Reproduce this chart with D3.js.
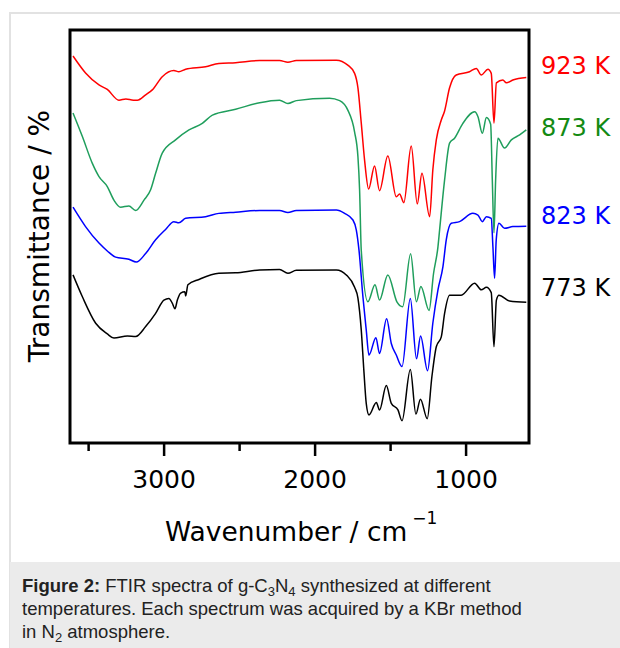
<!DOCTYPE html>
<html>
<head>
<meta charset="utf-8">
<script src="https://cdn.jsdelivr.net/npm/d3@7"></script>
<style>
  body { margin: 0; background: #fff; }
  svg { display: block; }
</style>
</head>
<body>
<div id="chart"></div>
<script>
// FTIR spectra, [wavenumber cm-1, transmittance (a.u., stacked)]
const s923 = [[3600,93.7],[3517,89.6],[3428,86.7],[3373,85.6],[3296,83.0],[3250,83.3],[3200,83.0],[3174,83.0],[3119,84.3],[3075,85.5],[3009,88.7],[2932,90.2],[2899,89.9],[2854,90.5],[2722,91.1],[2634,91.9],[2523,92.1],[2364,92.6],[2232,92.6],[2177,92.2],[2121,92.6],[1856,92.7],[1780,91.5],[1735,89.5],[1713,86.0],[1691,77.5],[1669,68.5],[1642,61.5],[1603,67.1],[1570,61.1],[1515,69.5],[1459,59.6],[1437,60.3],[1409,58.2],[1360,71.9],[1320,57.9],[1289,65.3],[1238,54.8],[1217,66.1],[1194,73.4],[1161,78.2],[1139,80.4],[1106,86.0],[1062,89.1],[974,89.9],[929,90.7],[896,89.1],[852,90.5],[830,89.5],[812,77.5],[796,87.2],[753,87.9],[730,87.2],[687,87.9],[598,88.5]];
const s873 = [[3600,79.9],[3538,74.2],[3472,67.7],[3428,64.5],[3373,62.1],[3329,58.8],[3285,57.1],[3230,57.4],[3185,56.3],[3130,58.8],[3086,61.3],[3053,65.3],[3009,70.2],[2921,73.4],[2832,75.8],[2744,77.4],[2677,79.4],[2523,80.8],[2364,82.4],[2232,83.0],[2177,82.2],[2121,82.9],[1901,83.5],[1834,82.9],[1780,80.6],[1735,75.3],[1713,69.3],[1702,61.3],[1691,46.7],[1647,34.2],[1600,38.3],[1570,34.6],[1515,40.7],[1454,34.1],[1417,33.0],[1364,45.8],[1326,34.2],[1296,37.9],[1242,32.1],[1212,41.1],[1183,47.5],[1172,51.6],[1139,63.7],[1106,72.6],[1073,73.8],[1018,77.4],[940,80.2],[918,79.0],[889,75.0],[862,78.8],[834,77.2],[823,63.7],[812,50.9],[801,63.7],[786,73.8],[742,71.4],[697,73.4],[642,74.6],[598,75.8]];
const s823 = [[3600,57.1],[3517,52.4],[3428,48.4],[3373,46.5],[3318,45.0],[3230,44.5],[3181,43.8],[3119,45.9],[3053,49.2],[2987,51.7],[2932,53.6],[2899,53.3],[2854,54.4],[2722,54.8],[2634,55.6],[2523,55.9],[2364,56.3],[2232,56.3],[2177,55.8],[2121,56.3],[1856,56.4],[1801,55.6],[1746,54.0],[1724,51.6],[1706,46.7],[1680,35.4],[1658,27.4],[1640,21.3],[1594,25.5],[1570,21.7],[1523,30.1],[1492,24.1],[1459,21.3],[1421,18.5],[1366,35.0],[1325,20.4],[1298,25.9],[1252,17.5],[1217,29.0],[1183,37.1],[1150,42.7],[1128,49.2],[1095,53.2],[1040,53.6],[952,55.6],[918,55.2],[889,53.6],[862,54.8],[830,54.4],[819,47.5],[808,39.9],[797,49.2],[779,53.2],[742,52.0],[687,52.4],[598,52.5]];
const s773 = [[3600,40.7],[3538,35.4],[3450,29.0],[3373,26.4],[3329,25.4],[3240,25.9],[3185,25.8],[3119,28.2],[3053,31.4],[2998,34.6],[2965,35.0],[2942,33.8],[2925,32.5],[2909,34.6],[2887,36.3],[2859,36.6],[2854,35.6],[2839,38.3],[2766,39.6],[2634,41.1],[2523,41.2],[2364,41.9],[2232,42.0],[2177,41.1],[2121,41.8],[1856,41.9],[1790,40.7],[1735,37.7],[1713,35.1],[1691,27.4],[1674,17.7],[1658,9.6],[1640,6.8],[1591,9.8],[1570,8.0],[1525,13.9],[1492,9.6],[1448,8.0],[1421,5.4],[1366,17.8],[1329,7.0],[1299,10.6],[1254,5.9],[1223,16.1],[1194,23.3],[1161,25.7],[1139,31.4],[1106,35.8],[1073,35.8],[1029,35.8],[940,38.7],[896,37.1],[862,37.7],[830,36.4],[812,23.3],[796,34.6],[779,35.8],[709,34.4],[598,34.1]];

const seriesNames = ['923 K', '873 K', '823 K', '773 K'];
const seriesData = [s923, s873, s823, s773];
const lineColors = ['#ff0000', '#1f9e5c', '#0000ff', '#000000'];
const labelColors = ['#ff0000', '#138a13', '#0000ff', '#000000'];
const labelT = [91.5, 76.5, 55.2, 37.8];

const majorTicks = [3000, 2000, 1000];
const minorTicks = [3500, 2500, 1500];

const width = 620, height = 648;
const svg = d3.select('#chart').append('svg')
    .attr('width', width)
    .attr('height', height);

// figure frame + caption box
svg.append('rect')
    .attr('x', 10).attr('y', 13)
    .attr('width', 620).attr('height', 640)
    .style('fill', '#fff')
    .style('stroke', '#e2e2e2')
    .style('stroke-width', 2);
svg.append('rect')
    .attr('x', 10).attr('y', 562)
    .attr('width', 610).attr('height', 86)
    .style('fill', '#ebebeb');

const plot = {left: 70, top: 30, right: 529, bottom: 443};

const x = d3.scaleLinear().domain([3620, 580]).range([plot.left, plot.right]);
const y = d3.scaleLinear().domain([0, 100]).range([plot.bottom, plot.top]);

// spectra
const line = d3.line()
    .x(d => x(d[0]))
    .y(d => y(d[1]))
    .curve(d3.curveMonotoneX);

svg.append('g')
    .selectAll('path')
    .data(seriesData)
    .enter()
    .append('path')
    .attr('d', d => line(d.slice().reverse()))
    .style('fill', 'none')
    .style('stroke', (d, i) => lineColors[i])
    .style('stroke-width', 1.5)
    .style('stroke-linejoin', 'round');

// plot frame
svg.append('rect')
    .attr('x', plot.left).attr('y', plot.top)
    .attr('width', plot.right - plot.left)
    .attr('height', plot.bottom - plot.top)
    .style('fill', 'none')
    .style('stroke', '#000')
    .style('stroke-width', 3);

// x axis ticks (outward)
const axisMajor = svg.append('g')
    .attr('transform', `translate(0, ${plot.bottom + 1})`)
    .call(d3.axisBottom(x).tickValues(majorTicks).tickSize(12).tickPadding(14).tickFormat(d3.format('d')));
const axisMinor = svg.append('g')
    .attr('transform', `translate(0, ${plot.bottom + 1})`)
    .call(d3.axisBottom(x).tickValues(minorTicks).tickSize(7).tickFormat(''));
[axisMajor, axisMinor].forEach(a => {
    a.select('.domain').remove();
    a.selectAll('line').style('stroke', '#000').style('stroke-width', 2.5);
});
axisMajor.selectAll('text')
    .style('font-family', 'DejaVu Sans')
    .style('font-size', '25px')
    .style('fill', '#000');

// axis titles
const xTitle = svg.append('text')
    .attr('x', 165)
    .attr('y', 541)
    .style('font-family', 'DejaVu Sans')
    .style('font-size', '26.5px')
    .style('fill', '#000');
xTitle.append('tspan').text('Wavenumber / cm');
xTitle.append('tspan')
    .attr('dx', 5)
    .attr('dy', -17)
    .style('font-size', '17px')
    .text('\u22121');

svg.append('text')
    .attr('transform', 'translate(49, 236) rotate(-90)')
    .attr('text-anchor', 'middle')
    .style('font-family', 'DejaVu Sans')
    .style('font-size', '28px')
    .style('fill', '#000')
    .text('Transmittance / %');

// series labels
svg.append('g')
    .selectAll('text')
    .data(seriesNames)
    .enter()
    .append('text')
    .attr('x', 541)
    .attr('y', (d, i) => y(labelT[i]))
    .attr('dy', '0.36em')
    .style('font-family', 'DejaVu Sans')
    .style('font-size', '24px')
    .style('fill', (d, i) => labelColors[i])
    .text(d => d);

// caption
const cap = svg.append('text')
    .style('font-family', 'Liberation Sans, Arial, sans-serif')
    .style('font-size', '18.5px')
    .style('fill', '#222');
const l1 = cap.append('tspan').attr('x', 22).attr('y', 592);
l1.append('tspan').style('font-weight', 'bold').text('Figure 2:');
l1.append('tspan').text(' FTIR spectra of g-C');
l1.append('tspan').attr('dy', 4).style('font-size', '13px').text('3');
l1.append('tspan').attr('dy', -4).text('N');
l1.append('tspan').attr('dy', 4).style('font-size', '13px').text('4');
l1.append('tspan').attr('dy', -4).text(' synthesized at different');
cap.append('tspan').attr('x', 22).attr('y', 615)
    .text('temperatures. Each spectrum was acquired by a KBr method');
const l3 = cap.append('tspan').attr('x', 22).attr('y', 638);
l3.append('tspan').text('in N');
l3.append('tspan').attr('dy', 4).style('font-size', '13px').text('2');
l3.append('tspan').attr('dy', -4).text(' atmosphere.');
</script>
</body>
</html>
